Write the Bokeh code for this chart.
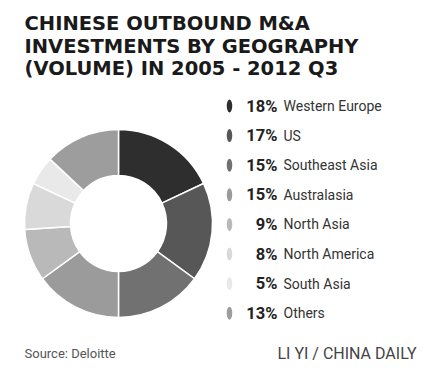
import numpy as np
from bokeh.plotting import figure
from bokeh.models import Range1d
from bokeh.core.properties import value
from bokeh.embed import file_html
from bokeh.resources import INLINE

# ---- data ----
regions = ["Western Europe", "US", "Southeast Asia", "Australasia",
           "North Asia", "North America", "South Asia", "Others"]
shares = [18, 17, 15, 15, 9, 8, 5, 13]
colors = ["#2e2e2e", "#575757", "#717171", "#9b9b9b",
          "#b9b9b9", "#d9d9d9", "#e9e9e9", "#9d9d9d"]
title_lines = ["CHINESE OUTBOUND M&A",
               "INVESTMENTS BY GEOGRAPHY",
               "(VOLUME) IN 2005 - 2012 Q3"]
source_text = "Source: Deloitte"
credit_text = "LI YI / CHINA DAILY"

W, H = 424, 367
p = figure(width=W, height=H, output_backend="svg", toolbar_location=None,
           x_range=Range1d(0, W), y_range=Range1d(0, H),
           min_border=0, outline_line_color=None)
p.axis.visible = False
p.grid.visible = False
p.background_fill_color = "white"

def Y(yref):
    return H - yref

def X(xref):
    return xref

# ---- donut ----
fr = np.array(shares, dtype=float) / sum(shares)
cum = np.cumsum(fr)
start = np.pi / 2 - (cum - fr) * 2 * np.pi
end = np.pi / 2 - cum * 2 * np.pi
cx, cy = X(118), Y(223)
p.annular_wedge(x=cx, y=cy, inner_radius=48, outer_radius=94,
                start_angle=list(start), end_angle=list(end), direction="clock",
                fill_color=colors, line_color="white", line_width=1.5)

# ---- legend ----
n = len(regions)
row_y = [Y(105.5 + 29.6 * i) for i in range(n)]
p.ellipse(x=[X(229)] * n, y=row_y, width=5.5, height=13,
          fill_color=colors, line_color=None)
p.text(x=[X(277)] * n, y=row_y, text=[f"{s}%" for s in shares],
       text_font=value("Roboto"), text_font_style="bold",
       text_font_size="16.5px", text_color="#222222",
       text_align="right", text_baseline="middle")
p.text(x=[X(283)] * n, y=row_y, text=regions,
       text_font=value("Roboto"), text_font_size="14px",
       text_color="#333333", text_align="left", text_baseline="middle")

# ---- title ----
p.text(x=[X(24)] * 3, y=[Y(23), Y(45.5), Y(68)], text=title_lines,
       text_font=value("DejaVu Sans"), text_font_style="bold",
       text_font_size="19.5px", text_color="#1a1a1a",
       text_align="left", text_baseline="alphabetic")

# ---- footer ----
p.text(x=[X(24)], y=[Y(353)], text=[source_text],
       text_font=value("Roboto"), text_font_size="13px",
       text_color="#555555", text_align="left", text_baseline="middle")
p.text(x=[X(416)], y=[Y(353)], text=[credit_text],
       text_font=value("Roboto"), text_font_size="16px",
       text_color="#444444", text_align="right", text_baseline="middle")

open("out.html", "w").write(file_html(p, INLINE))
